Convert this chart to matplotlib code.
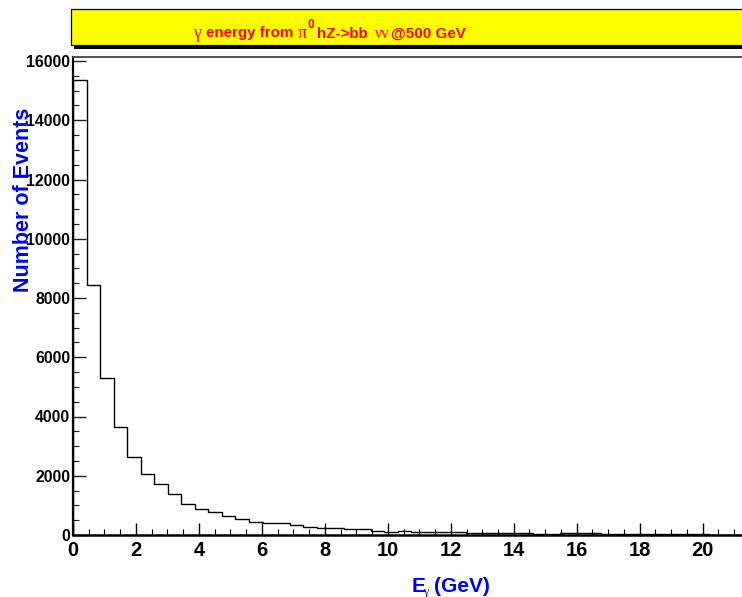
import matplotlib
matplotlib.use("Agg")
import matplotlib.pyplot as plt
from matplotlib.patches import Rectangle
import numpy as np

# ---- data ----
bin_width = 0.43
counts = [15370, 8440, 5290, 3650, 2645, 2050, 1715, 1370, 1045, 875,
          775, 650, 540, 440, 400, 390, 348, 280, 230, 222,
          195, 190, 145, 118, 130, 111, 92, 90, 86, 60,
          57, 55, 78, 75, 45, 44, 70, 68, 52, 50,
          48, 45, 40, 38, 35, 20, 18, 15, 12, 10]
x_ticks = [0, 2, 4, 6, 8, 10, 12, 14, 16, 18, 20]
y_ticks = [0, 2000, 4000, 6000, 8000, 10000, 12000, 14000, 16000]
title_parts = ["γ", "energy from", "π", "0", "hZ->bb", "νν", "@500 GeV"]
xlabel_parts = ["E", "γ", "(GeV)"]
ylabel = "Number of Events"

W, H = 742, 597
fig = plt.figure(figsize=(W / 100, H / 100), dpi=100)

def fx(px):
    return px / W

def fy(py):
    return 1 - py / H

ax_left, ax_right, ax_top, ax_bot = 73, 742, 57, 535
ax = fig.add_axes([fx(ax_left), fy(ax_bot), fx(ax_right - ax_left), fy(ax_top) - fy(ax_bot)])

edges = np.arange(len(counts) + 1) * bin_width
ax.stairs(counts, edges, color="black", lw=1.0, baseline=0)

ymax = 16000 * (ax_bot - ax_top) / (535 - 61)
ax.set_xlim(0, 21.25)
ax.set_ylim(0, ymax)

ax.set_xticks(x_ticks)
ax.set_xticks(np.arange(0, 21.3, 0.5), minor=True)
ax.set_yticks(y_ticks)
ax.set_yticks(np.arange(0, 16001, 500), minor=True)
ax.set_xticklabels([str(v) for v in x_ticks], fontsize=14.5, fontweight="bold",
                   family="Liberation Sans")
ax.set_yticklabels([str(v) for v in y_ticks], fontsize=11.3, fontweight="bold",
                   family="Liberation Sans")
ax.tick_params(axis="x", which="major", direction="in", length=8.6, width=1.0, pad=4, color="black")
ax.tick_params(axis="x", which="minor", direction="in", length=4.3, width=0.8, color="black")
ax.tick_params(axis="y", which="major", direction="in", length=9.4, width=1.0, pad=2, color="#222222")
ax.tick_params(axis="y", which="minor", direction="in", length=4.3, width=0.8, color="#222222")

ax.spines["right"].set_visible(False)
ax.spines["left"].set_linewidth(1.6)
ax.spines["bottom"].set_linewidth(1.8)
ax.spines["top"].set_linewidth(1.3)
ax.spines["top"].set_color("#444444")

# ---- title box ----
fig.patches.append(Rectangle((fx(74), fy(49)), fx(W - 74 + 5), fy(13) - fy(49),
                             transform=fig.transFigure, facecolor="black",
                             edgecolor="none", zorder=0))
fig.patches.append(Rectangle((fx(70.5), fy(45)), fx(W - 70.5 + 5), fy(9.5) - fy(45),
                             transform=fig.transFigure, facecolor="#ffff00",
                             edgecolor="black", lw=0.9, zorder=1))

red = "#ff0000"
tb = fy(37.5)
sans = dict(fontsize=10.9, fontweight="bold", family="Liberation Sans", color=red,
            va="baseline", ha="left")
serif = dict(fontsize=13, family="Liberation Serif", color=red, va="baseline", ha="left")
fig.text(fx(193), tb, title_parts[0], **serif)
fig.text(fx(205.5), tb, title_parts[1], **sans)
fig.text(fx(297.5), tb, title_parts[2], **serif)
fig.text(fx(308), fy(27.5), title_parts[3], fontsize=8.5, fontweight="bold",
         family="Liberation Sans", color=red, va="baseline", ha="left")
fig.text(fx(316.5), tb, title_parts[4], **sans)
fig.text(fx(375), tb, title_parts[5], fontsize=11.5, family="Liberation Serif",
         color=red, va="baseline", ha="left")
fig.text(fx(391), tb, title_parts[6], **sans)

# ---- axis labels ----
blue = "#0000ff"
fig.text(fx(23.5), fy(200), ylabel, rotation=90, ha="center", va="center",
         fontsize=15.5, fontweight="bold", family="Liberation Sans", color=blue)
xb = fy(591.5)
fig.text(fx(411.5), xb, xlabel_parts[0], fontsize=15, fontweight="bold",
         family="Liberation Sans", color=blue, va="baseline", ha="left")
fig.text(fx(423), fy(594.5), xlabel_parts[1], fontsize=8.5, family="Liberation Serif",
         color=blue, va="baseline", ha="left")
fig.text(fx(433.5), xb, xlabel_parts[2], fontsize=15, fontweight="bold",
         family="Liberation Sans", color=blue, va="baseline", ha="left")

fig.savefig("out.png", dpi=100)
